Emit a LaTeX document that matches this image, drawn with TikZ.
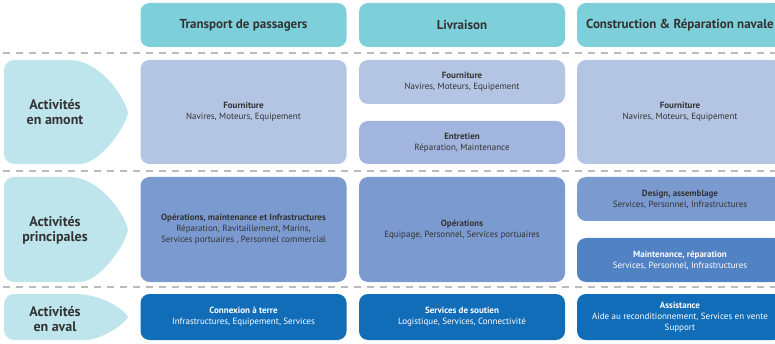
\documentclass[tikz,border=0pt]{standalone}
\usepackage{fontspec}
\setmainfont{PT Sans}
\usetikzlibrary{positioning}

\definecolor{headcol}{HTML}{7DCFDA}
\definecolor{tabcol}{HTML}{BEE5EC}
\definecolor{amontcol}{HTML}{B4C5E4}
\definecolor{entrcol}{HTML}{A2B5DE}
\definecolor{princcol}{HTML}{7B9AD0}
\definecolor{maintcol}{HTML}{5182C4}
\definecolor{avalcol}{HTML}{126DB8}
\definecolor{txtcol}{HTML}{333333}
\definecolor{dashcol}{HTML}{BBBBBB}

% left tab: top, middle, bottom, knee x, control x at top
\newcommand{\acttab}[5]{%
  \fill[tabcol] (#4,#1) [rounded corners=10pt] -- (4,#1) -- (4,#3) -- (#4,#3) [sharp corners]
    .. controls (#5,#3) and (124,{#2+(#3-#2)*0.35}) .. (128,#2)
    .. controls (124,{#2-(#2-#1)*0.35}) and (#5,#1) .. cycle;}

\begin{document}
\begin{tikzpicture}[x=1pt,y=-1pt,font=\fontsize{9}{11}\selectfont]
\tikzset{cell/.style={rectangle, rounded corners=9pt, inner sep=2pt, outer sep=0pt, text=txtcol, align=center, minimum width=206pt},
         head/.style={cell, fill=headcol, minimum height=44pt, font=\fontsize{13}{15}\selectfont\bfseries},
         tablabel/.style={text=txtcol, align=center, font=\fontsize{14}{15}\selectfont\bfseries},
         sep/.style={dashcol, line width=1.3pt, dash pattern=on 7pt off 6pt}}
\clip (0,0) rectangle (775,344);

% headers
\node[head] (transport) at (243.5,25) {Transport de passagers};
\node[head] (livraison) at (462,25) {Livraison};
\node[head] (construction) at (680,25) {Construction \& Réparation navale};

% separators
\draw[sep] (3,53) -- (775,53);
\draw[sep] (3,171) -- (775,171);
\draw[sep] (3,287) -- (775,287);

% left tabs
\acttab{60}{113}{164}{70}{98}
\acttab{177}{230}{282}{70}{98}
\acttab{294}{317}{340}{76}{100}
\node[tablabel] (amont) at (55,112) {Activités\\en amont};
\node[tablabel] (principal) at (55,230) {Activités\\principales};
\node[tablabel] (aval) at (55,319) {Activités\\en aval};

% en amont
\node[cell, fill=amontcol, minimum height=104pt] (tp1) at (243.5,112)
  {\textbf{Fourniture}\\Navires, Moteurs, Equipement};
\node[cell, fill=amontcol, minimum height=44pt] (lv1) at (462,82)
  {\textbf{Fourniture}\\Navires, Moteurs, Equipement};
\node[cell, fill=entrcol, minimum height=43pt] (lv2) at (462,142.5)
  {\textbf{Entretien}\\Réparation, Maintenance};
\node[cell, fill=amontcol, minimum height=104pt] (cn1) at (680,112)
  {\textbf{Fourniture}\\Navires, Moteurs, Equipement};

% principales
\node[cell, fill=princcol, minimum height=105pt] (tp2) at (243.5,229.5)
  {\textbf{Opérations, maintenance et Infrastructures}\\Réparation, Ravitaillement, Marins,\\Services portuaires , Personnel commercial};
\node[cell, fill=princcol, minimum height=105pt] (lv3) at (462,229.5)
  {\textbf{Opérations}\\Equipage, Personnel, Services portuaires};
\node[cell, fill=princcol, minimum height=44pt] (cn2) at (680,199)
  {\textbf{Design, assemblage}\\Services, Personnel, Infrastructures};
\node[cell, fill=maintcol, text=white, minimum height=44pt] (cn3) at (680,260)
  {\textbf{Maintenance, réparation}\\Services, Personnel, Infrastructures};

% en aval
\node[cell, fill=avalcol, text=white, minimum height=46pt] (tp3) at (243.5,317)
  {\textbf{Connexion à terre}\\Infrastructures, Equipement, Services};
\node[cell, fill=avalcol, text=white, minimum height=46pt] (lv4) at (462,317)
  {\textbf{Services de soutien}\\Logistique, Services, Connectivité};
\node[cell, fill=avalcol, text=white, minimum height=46pt] (cn4) at (680,317)
  {\textbf{Assistance}\\Aide au reconditionnement, Services en vente\\Support};
\end{tikzpicture}
\end{document}
